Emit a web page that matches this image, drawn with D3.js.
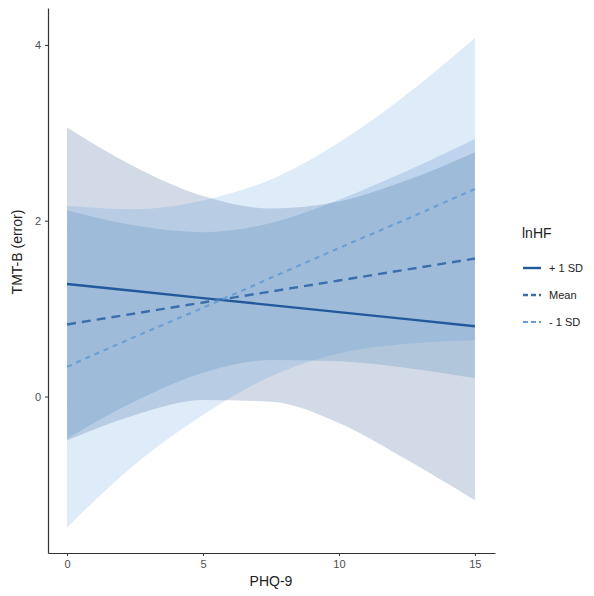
<!DOCTYPE html>
<html>
<head>
<meta charset="utf-8">
<script src="https://cdn.jsdelivr.net/npm/d3@7"></script>
<style>
  body { margin: 0; background: #fff; }
  svg { font-family: "Liberation Sans", Arial, sans-serif; }
  .tick text { fill: #4d4d4d; font-size: 11px; }
  .tick line { stroke: #333; }
  .domain { stroke: #333; stroke-width: 1.2px; }
</style>
</head>
<body>
<svg width="594" height="596"></svg>
<script>
// PHQ-9 values where the bands were read
const phq = [0, 2.5, 5, 7.5, 10, 12.5, 15]

// simple slopes of TMT-B by lnHF level
const plusLine = [1.28, 1.20, 1.12, 1.04, 0.96, 0.88, 0.80]
const meanLine = [0.82, 0.945, 1.07, 1.195, 1.32, 1.445, 1.57]
const minusLine = [0.34, 0.68, 1.01, 1.35, 1.69, 2.02, 2.36]

// confidence bands (lower / upper)
const plusLo = [-0.50, -0.21, -0.04, -0.06, -0.30, -0.72, -1.18]
const plusHi = [3.06, 2.61, 2.28, 2.14, 2.22, 2.46, 2.78]
const meanLo = [-0.48, -0.055, 0.27, 0.415, 0.40, 0.325, 0.21]
const meanHi = [2.12, 1.945, 1.87, 1.975, 2.24, 2.565, 2.93]
const minusLo = [-1.49, -0.77, -0.21, 0.23, 0.49, 0.60, 0.64]
const minusHi = [2.17, 2.13, 2.23, 2.47, 2.89, 3.44, 4.08]

const levels = ['+ 1 SD', 'Mean', '- 1 SD']
const xTicks = [0, 5, 10, 15]
const yTicks = [0, 2, 4]

const svg = d3.select('svg')

// 軸のスケール（パネルの端まで少し余白をとる）
const xScale = d3.scaleLinear().domain([-0.7, 15.74]).range([48, 495])
const yScale = d3.scaleLinear().domain([-1.78, 4.42]).range([553, 8])

const series = [
  { name: levels[0], line: plusLine, lo: plusLo, hi: plusHi, fill: '#0b3a78', stroke: '#23599b', dash: null, width: 2.4 },
  { name: levels[1], line: meanLine, lo: meanLo, hi: meanHi, fill: '#2d68ad', stroke: '#3b6fab', dash: '9,6', width: 2.4 },
  { name: levels[2], line: minusLine, lo: minusLo, hi: minusHi, fill: '#4f95dc', stroke: '#6a9fd6', dash: '5,5', width: 2.2 }
]

const area = d3.area()
  .x((d, i) => xScale(phq[i]))
  .y0(d => yScale(d[0]))
  .y1(d => yScale(d[1]))
  .curve(d3.curveMonotoneX)

const line = d3.line()
  .x((d, i) => xScale(phq[i]))
  .y(d => yScale(d))

// バンド
svg.append('g')
  .selectAll('path')
  .data(series)
  .enter()
  .append('path')
  .attr('d', s => area(s.lo.map((v, i) => [v, s.hi[i]])))
  .attr('fill', s => s.fill)
  .attr('fill-opacity', 0.19)

// 回帰直線
svg.append('g')
  .selectAll('path')
  .data(series)
  .enter()
  .append('path')
  .attr('d', s => line(s.line))
  .attr('fill', 'none')
  .attr('stroke', s => s.stroke)
  .attr('stroke-width', s => s.width)
  .attr('stroke-dasharray', s => s.dash)

// tickSize は外側の目盛りも変えるので先に呼ぶ
svg.append('g')
  .attr('transform', 'translate(0, 553)')
  .call(d3.axisBottom(xScale).tickValues(xTicks).tickFormat(d3.format('d'))
    .tickSize(3).tickSizeOuter(0).tickPadding(4))

svg.append('g')
  .attr('transform', 'translate(48, 0)')
  .call(d3.axisLeft(yScale).tickValues(yTicks).tickFormat(d3.format('d'))
    .tickSize(3).tickSizeOuter(0).tickPadding(4))

svg.append('text')
  .attr('x', 271).attr('y', 586)
  .attr('text-anchor', 'middle')
  .attr('font-size', 14)
  .attr('fill', '#222')
  .text('PHQ-9')

svg.append('text')
  .attr('transform', 'translate(22, 252) rotate(-90)')
  .attr('text-anchor', 'middle')
  .attr('font-size', 14)
  .attr('fill', '#222')
  .text('TMT-B (error)')

// 凡例
const legend = svg.append('g').attr('transform', 'translate(522, 0)')
legend.append('text')
  .attr('x', 0).attr('y', 238)
  .attr('font-size', 14)
  .attr('fill', '#222')
  .text('lnHF')

const item = legend.selectAll('g.item')
  .data(series)
  .enter()
  .append('g')
  .attr('class', 'item')
  .attr('transform', (d, i) => `translate(0, ${268 + i * 27})`)

item.append('line')
  .attr('x1', 1).attr('x2', 19)
  .attr('stroke', s => s.stroke)
  .attr('stroke-width', s => s.width)
  .attr('stroke-dasharray', s => s.dash ? '5,3' : null)

item.append('text')
  .attr('x', 27).attr('y', 4)
  .attr('font-size', 11)
  .attr('fill', '#222')
  .text(s => s.name)
</script>
</body>
</html>
